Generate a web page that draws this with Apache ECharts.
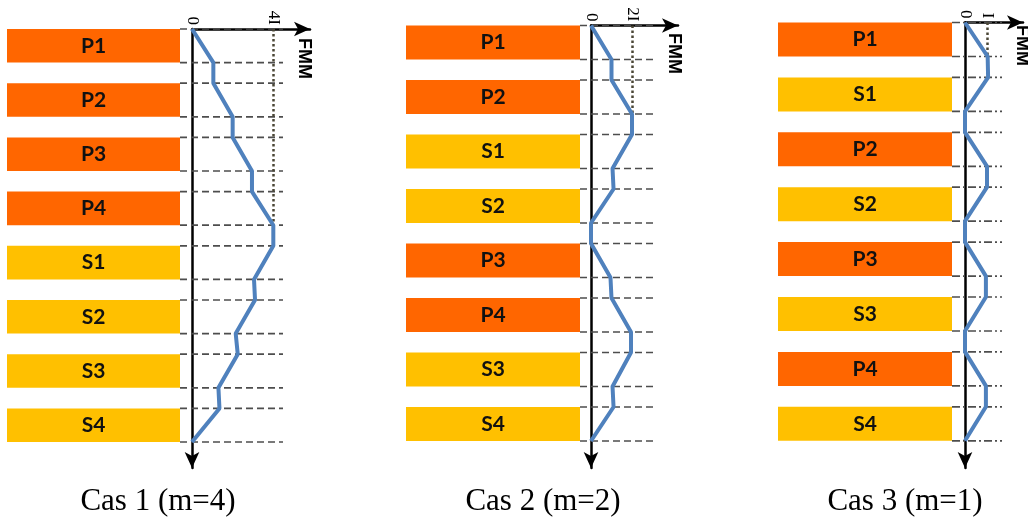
<!DOCTYPE html>
<html><head><meta charset="utf-8">
<script src="https://cdn.jsdelivr.net/npm/echarts@6/dist/echarts.min.js"></script>
<style>html,body{margin:0;padding:0;background:#fff}#c{width:1028px;height:522px}</style>
</head><body><div id="c"></div>
<script>
// ---- data ----
const cats1 = ['P1','P2','P3','P4','S1','S2','S3','S4'];
const cats2 = ['P1','P2','S1','S2','P3','P4','S3','S4'];
const cats3 = ['P1','S1','P2','S2','P3','S3','P4','S4'];
// MMF at each box top / box bottom (16 points per case), in units of I
const mmf1 = [0,1.05,1.05,2,2,2.95,2.95,4,4,3.05,3.1,2.15,2.25,1.3,1.35,0];
const mmf2 = [0,1,1,2,2,1.05,1.1,0,0,0.95,1,1.95,1.95,1.05,1.1,0];
const mmf3 = [0,1.03,1.05,0,0,1,1,0,0,0.95,0.95,0,0,0.95,0.95,0];
const peakValues = [4,2,1];
const peakLabels = ['4I','2I','I'];
const dotEnds = [3.69,1.92,0.6];
const captions = ['Cas 1 (m=4)','Cas 2 (m=2)','Cas 3 (m=1)'];
const axisName = 'FMM';

// ---- layout (px) ----
const L = [
  {boxL:7,   boxR:180, ax:192, T:29,   P:54.2, B:33.6, unit:20.33, tip:310, dashR:283, capX:158, nameX:304, nameY:38, dash:[7,4]},
  {boxL:406, boxR:580, ax:591, T:25.5, P:54.5, B:34,   unit:20.5,  tip:678, dashR:653, capX:543, nameX:674, nameY:33, dash:[7,4]},
  {boxL:778, boxR:952, ax:965, T:22.5, P:54.9, B:34,   unit:22,    tip:1023,dashR:1002,capX:905, nameX:1022,nameY:25, dash:[8,3,2,3]}
];
const arrowBottom = 468;
const cats = [cats1,cats2,cats3];
const mmfs = [mmf1,mmf2,mmf3];
const ORANGE = '#FF6600', YELLOW = '#FFC000', BLUE = '#4F81BD';

const grid=[], xAxis=[], yAxis=[], series=[], title=[], graphic=[];
L.forEach((l,p)=>{
  const gA = 2*p, gB = 2*p+1;
  const xMax = (l.tip - l.ax)/l.unit;
  const yMax = (arrowBottom - l.T)/l.P;
  const h = l.B/l.P;
  grid.push({left:l.boxL, width:l.boxR-l.boxL, top:l.T-(l.P-l.B)/2, height:8*l.P});
  grid.push({left:l.ax, width:xMax*l.unit, top:l.T, height:yMax*l.P});
  xAxis.push({gridIndex:gA, type:'value', min:0, max:1, show:false});
  yAxis.push({gridIndex:gA, type:'category', data:cats[p], inverse:true, show:false});
  const pk = peakValues[p], pl = peakLabels[p];
  xAxis.push({gridIndex:gB, type:'value', position:'top', min:0, max:xMax, interval:1,
    axisLine:{show:true, lineStyle:{color:'#000', width:2.5}, symbol:['none','arrow'], symbolSize:[11,16]},
    axisTick:{show:false}, splitLine:{show:false},
    axisLabel:{show:true, rotate:-90, margin:4, showMaxLabel:false, color:'#000',
      fontFamily:'Liberation Serif', fontSize:17,
      formatter:v=> v===0?'0':(Math.abs(v-pk)<1e-9?pl:'')}});
  yAxis.push({gridIndex:gB, type:'value', inverse:true, min:0, max:yMax,
    axisLine:{show:true, onZero:false, lineStyle:{color:'#000', width:2.5}, symbol:['arrow','none'], symbolSize:[11,16]},
    axisTick:{show:false}, axisLabel:{show:false}, splitLine:{show:false}});
  // boxes
  series.push({type:'bar', xAxisIndex:gA, yAxisIndex:gA, barWidth:l.B, silent:true,
    data:cats[p].map(c=>({value:1, itemStyle:{color:c[0]==='P'?ORANGE:YELLOW}})),
    label:{show:true, position:'inside', formatter:pp=>cats[p][pp.dataIndex],
      color:'#111', fontFamily:'Lato', fontWeight:'bold', fontSize:21}});
  // boundaries y (box top/bottom)
  const ys = [];
  for(let k=0;k<8;k++){ ys.push(k); ys.push(k+h); }
  const dx0 = (l.boxR - l.ax)/l.unit, dx1 = (l.dashR - l.ax)/l.unit;
  series.push({type:'custom', xAxisIndex:gB, yAxisIndex:gB, silent:true, z:1,
    data:ys.map(y=>[y]),
    renderItem:(params, api)=>{
      const y = api.value(0);
      const a = api.coord([dx0,y]), b = api.coord([dx1,y]);
      return {type:'line', shape:{x1:a[0],y1:a[1],x2:b[0],y2:b[1]},
        style:{stroke:'#4d4d4d', lineWidth:1.7, lineDash:l.dash}};
    }});
  // MMF line
  series.push({type:'line', xAxisIndex:gB, yAxisIndex:gB, showSymbol:false, silent:true, z:3,
    data:mmfs[p].map((v,i)=>[v, ys[i]]),
    lineStyle:{color:BLUE, width:4}, itemStyle:{color:BLUE},
    markLine:{silent:true, symbol:['none','none'], label:{show:false}, z:2,
      lineStyle:{color:'#4a4636', width:2.5, type:[2.5,2.5]},
      data:[[{coord:[pk,0]},{coord:[pk,dotEnds[p]]}]]}});
  title.push({text:captions[p], left:l.capX, top:486, textAlign:'center', padding:0,
    textStyle:{fontFamily:'Liberation Serif', fontWeight:'normal', fontSize:31, color:'#000'}});
  graphic.push({type:'text', x:l.nameX, y:l.nameY, rotation:-Math.PI/2,
    style:{text:axisName, fontSize:18, fontWeight:'bold', fontFamily:'Liberation Sans', fill:'#000', textAlign:'left', textVerticalAlign:'middle'}});
});

const chart = echarts.init(document.getElementById('c'), null, {renderer:'canvas'});
chart.setOption({animation:false, backgroundColor:'#fff', title, grid, xAxis, yAxis, series, graphic});
</script></body></html>
